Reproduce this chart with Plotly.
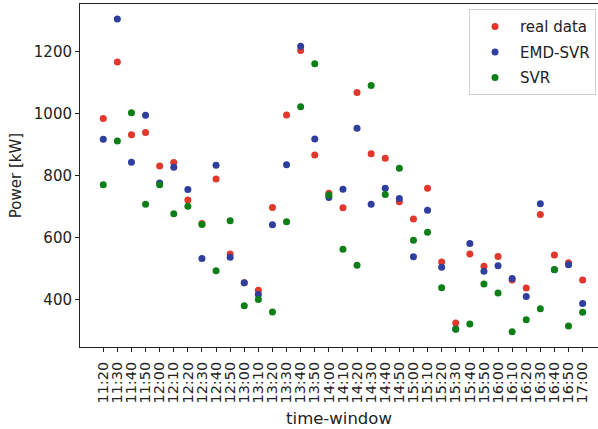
import plotly.graph_objects as go

time_windows = ["11:20", "11:30", "11:40", "11:50", "12:00", "12:10", "12:20", "12:30", "12:40", "12:50",
                "13:00", "13:10", "13:20", "13:30", "13:40", "13:50", "14:00", "14:10", "14:20", "14:30",
                "14:40", "14:50", "15:00", "15:10", "15:20", "15:30", "15:40", "15:50", "16:00", "16:10",
                "16:20", "16:30", "16:40", "16:50", "17:00"]

real_data = [985, 1167, 932, 940, 832, 843, 722, 646, 790, 548,
             455, 431, 698, 996, 1204, 867, 744, 697, 1069, 871,
             857, 716, 661, 760, 522, 325, 548, 508, 540, 464,
             438, 675, 545, 520, 464]

emd_svr = [918, 1306, 844, 995, 777, 828, 756, 533, 834, 537,
           455, 417, 642, 836, 1218, 919, 730, 757, 953, 708,
           760, 727, 539, 689, 505, 306, 582, 492, 510, 469,
           411, 710, 497, 513, 388]

svr = [771, 912, 1003, 708, 771, 678, 702, 643, 494, 655,
       381, 401, 361, 652, 1023, 1161, 738, 563, 512, 1091,
       740, 824, 592, 618, 439, 305, 322, 451, 422, 297,
       336, 371, 498, 316, 360]

series_names = ["real data", "EMD-SVR", "SVR"]
series_colors = ["#e2372b", "#2f3f9e", "#0e7f17"]

FONT = "DejaVu Sans"
TXT = "#222222"

fig = go.Figure()
for name, vals, col in zip(series_names, [real_data, emd_svr, svr], series_colors):
    fig.add_trace(go.Scatter(
        x=time_windows, y=vals, mode="markers", name=name, legendgroup=name,
        marker=dict(color=col, size=7, line=dict(width=0)),
    ))

fig.update_layout(
    width=598, height=429,
    margin=dict(l=80, r=0, t=4, b=82, autoexpand=False),
    paper_bgcolor="white", plot_bgcolor="white",
    font=dict(family=FONT, size=15, color=TXT),
    showlegend=True,
    legend=dict(
        x=0.751, xanchor="left", y=0.985, yanchor="top",
        bordercolor="#d0d0d0", borderwidth=1, bgcolor="rgba(255,255,255,0.8)",
        font=dict(family=FONT, size=15, color=TXT),
        itemwidth=40, traceorder="grouped", tracegroupgap=3,
    ),
)

fig.update_xaxes(
    type="category", categoryorder="array", categoryarray=time_windows,
    range=[-1.65, 35.09], automargin=False,
    tickmode="linear", tick0=0, dtick=1,
    showline=True, linecolor="#222222", linewidth=1, mirror=True,
    ticks="outside", ticklen=4, tickcolor="#222222", tickwidth=1,
    tickangle=-90, tickfont=dict(family=FONT, size=14.5, color=TXT),
    ticklabelstandoff=4,
    showgrid=False, zeroline=False,
    title=dict(text="time-window", font=dict(family=FONT, size=16.5, color=TXT), standoff=9),
)

fig.update_yaxes(
    range=[248, 1354], automargin=False,
    tickvals=[400, 600, 800, 1000, 1200],
    showline=True, linecolor="#222222", linewidth=1, mirror=False,
    ticks="outside", ticklen=4, tickcolor="#222222", tickwidth=1,
    tickfont=dict(family=FONT, size=15, color=TXT),
    showgrid=False, zeroline=False,
    title=dict(text="Power [kW]", font=dict(family=FONT, size=15, color=TXT), standoff=8),
)

fig.write_html("out.html", config={"displayModeBar": False},
               post_script="document.body.style.margin='0';document.body.style.overflow='hidden';")
